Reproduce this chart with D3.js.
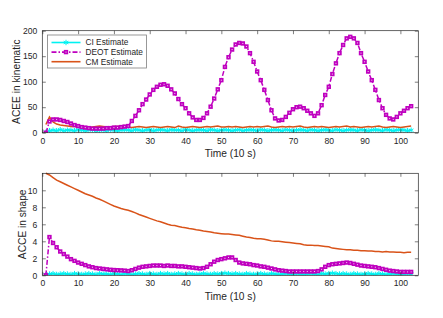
<!DOCTYPE html>
<html>
<head>
<meta charset="utf-8">
<script src="https://cdn.jsdelivr.net/npm/d3@7"></script>
<style>
  body { margin: 0; background: #fff; }
  svg { display: block; font-family: "Liberation Sans", Arial, sans-serif; }
</style>
</head>
<body>
<div id="chart"></div>
<script>
// ---------------------------------------------------------
// DATA
// ---------------------------------------------------------

// time steps 1..103
var timeSteps = d3.range(1, 104);

var xTicks = [0, 10, 20, 30, 40, 50, 60, 70, 80, 90, 100];
var topYTicks = [0, 50, 100, 150, 200];
var bottomYTicks = [0, 2, 4, 6, 8, 10];

var seriesNames = ["CI Estimate", "DEOT Estimate", "CM Estimate"];

// top panel: ACEE in kinematic
var ciKinematic = [
  1, 4, 5, 4, 6, 4, 5, 5, 4, 6,
  5, 4, 5, 6, 4, 5, 5, 4, 6, 5,
  4, 5, 6, 5, 4, 6, 5, 4, 5, 6,
  4, 5, 6, 5, 4, 6, 5, 5, 4, 6,
  5, 4, 5, 6, 5, 4, 6, 5, 4, 5,
  6, 5, 4, 5, 6, 4, 5, 6, 5, 4,
  6, 5, 4, 5, 6, 5, 4, 6, 5, 4,
  5, 6, 5, 4, 6, 5, 4, 5, 6, 5,
  4, 6, 5, 4, 5, 6, 5, 4, 6, 5,
  4, 5, 6, 5, 4, 6, 5, 4, 5, 6,
  5, 4, 5
];

var deotKinematic = [
  0, 22, 26, 26, 25, 23, 21, 18, 15, 13,
  11, 10, 9, 8, 8, 8, 8, 9, 9, 10,
  10, 11, 12, 13, 23, 33, 44, 56, 65, 75,
  84, 90, 94, 95, 92, 85, 77, 66, 56, 48,
  38, 30, 25, 25, 29, 38, 51, 67, 85, 103,
  129, 148, 163, 173, 176, 175, 169, 156, 139, 120,
  103, 84, 64, 44, 28, 24, 25, 31, 39, 46,
  50, 51, 48, 43, 38, 33, 38, 54, 74, 90,
  115, 136, 156, 172, 185, 188, 185, 176, 156, 139,
  120, 103, 84, 64, 48, 35, 28, 26, 31, 38,
  43, 48, 52
];

var cmKinematic = [
  16, 31, 21, 17, 15, 14, 13, 12, 12, 11,
  11, 10, 10, 11, 12, 13, 12, 11, 11, 12,
  12, 13, 12, 11, 10, 11, 12, 11, 10, 11,
  12, 11, 10, 11, 12, 11, 10, 13, 11, 10,
  11, 12, 11, 10, 11, 12, 11, 12, 13, 11,
  11, 12, 11, 12, 11, 10, 11, 12, 11, 12,
  11, 12, 13, 11, 10, 11, 12, 11, 12, 11,
  12, 13, 11, 10, 11, 12, 11, 12, 11, 10,
  11, 12, 11, 12, 13, 11, 12, 11, 10, 11,
  12, 11, 12, 13, 11, 10, 11, 12, 11, 10,
  11, 12, 13
];

// bottom panel: ACCE in shape
var ciShape = [
  0.05, 0.15, 0.2, 0.1, 0.15, 0.2, 0.15, 0.1, 0.2, 0.15,
  0.1, 0.15, 0.2, 0.15, 0.1, 0.2, 0.15, 0.15, 0.1, 0.2,
  0.15, 0.1, 0.2, 0.15, 0.1, 0.15, 0.2, 0.15, 0.1, 0.2,
  0.15, 0.1, 0.2, 0.15, 0.2, 0.1, 0.15, 0.2, 0.15, 0.1,
  0.2, 0.15, 0.1, 0.15, 0.2, 0.15, 0.1, 0.2, 0.15, 0.2,
  0.25, 0.2, 0.15, 0.2, 0.15, 0.1, 0.2, 0.15, 0.1, 0.15,
  0.2, 0.15, 0.1, 0.2, 0.15, 0.1, 0.15, 0.2, 0.15, 0.1,
  0.2, 0.15, 0.1, 0.15, 0.2, 0.15, 0.1, 0.2, 0.15, 0.2,
  0.25, 0.2, 0.15, 0.2, 0.15, 0.1, 0.2, 0.15, 0.1, 0.15,
  0.2, 0.15, 0.1, 0.2, 0.15, 0.1, 0.15, 0.2, 0.15, 0.1,
  0.15, 0.2, 0.15
];

var deotShape = [
  0, 4.5, 3.8, 3.3, 2.8, 2.5, 2.2, 1.9, 1.7, 1.5,
  1.35, 1.2, 1.05, 0.95, 0.85, 0.8, 0.75, 0.7, 0.65, 0.62,
  0.6, 0.58, 0.55, 0.5, 0.6, 0.75, 0.9, 1.0, 1.05, 1.1,
  1.15, 1.15, 1.15, 1.1, 1.15, 1.1, 1.1, 1.05, 1.05, 1.0,
  0.95, 0.9, 0.85, 0.8, 0.85, 1.0, 1.3, 1.6, 1.8, 1.9,
  2.0, 2.1, 2.1, 1.8, 1.5, 1.4, 1.35, 1.3, 1.2, 1.15,
  1.05, 1.0, 0.9, 0.8, 0.7, 0.6, 0.55, 0.5, 0.45, 0.45,
  0.45, 0.45, 0.45, 0.45, 0.45, 0.45, 0.5, 0.7, 1.0, 1.2,
  1.3, 1.35, 1.4, 1.45, 1.5, 1.45, 1.35, 1.25, 1.15, 1.1,
  1.05, 1.0, 0.95, 0.85, 0.75, 0.65, 0.55, 0.5, 0.45, 0.4,
  0.4, 0.4, 0.4
];

var cmShape = [
  12.0, 11.8, 11.5, 11.2, 11.0, 10.8, 10.6, 10.4, 10.2, 10.0,
  9.8, 9.6, 9.45, 9.3, 9.1, 8.95, 8.75, 8.55, 8.35, 8.15,
  8.0, 7.85, 7.75, 7.65, 7.5, 7.35, 7.15, 7.0, 6.85, 6.7,
  6.55, 6.4, 6.3, 6.15, 6.0, 5.9, 5.85, 5.75, 5.65, 5.6,
  5.5, 5.45, 5.35, 5.3, 5.2, 5.15, 5.1, 5.0, 4.95, 4.9,
  4.85, 4.85, 4.8, 4.75, 4.7, 4.6, 4.5, 4.45, 4.35, 4.3,
  4.3, 4.25, 4.15, 4.05, 4.0, 4.0, 3.95, 3.9, 3.85, 3.8,
  3.75, 3.7, 3.6, 3.55, 3.55, 3.5, 3.5, 3.45, 3.4, 3.35,
  3.2, 3.15, 3.1, 3.05, 3.0, 3.0, 2.95, 2.95, 2.9, 2.9,
  2.85, 2.85, 2.8, 2.8, 2.75, 2.8, 2.75, 2.75, 2.7, 2.7,
  2.65, 2.7, 2.7
];

// ---------------------------------------------------------
// SET UP PARAMETERS
// ---------------------------------------------------------

var svgWidth = 443;
var svgHeight = 318;

var colors = {
  ci: "#00f2f2",
  deot: "#bf00bf",
  cm: "#d95319",
  axis: "#262626"
};

var svg = d3.select("#chart")
  .append("svg")
  .attr("width", svgWidth)
  .attr("height", svgHeight);

// square marker: solid magenta with a tiny light centre
function addSquare(sel, x, y) {
  sel.append("rect")
    .attr("x", x - 2.2)
    .attr("y", y - 2.2)
    .attr("width", 4.4)
    .attr("height", 4.4)
    .attr("fill", colors.deot);
  sel.append("rect")
    .attr("x", x - 0.5)
    .attr("y", y - 0.5)
    .attr("width", 1)
    .attr("height", 1)
    .attr("fill", "#f4d8f4");
}

// ---------------------------------------------------------
// PANEL DRAWING FUNCTION
// ---------------------------------------------------------

function drawPanel(box, yDomain, yTicks, yLabel, yLabelX, ci, deot, cm, withLegend) {
  var width = box.right - box.left;
  var height = box.bottom - box.top;

  var g = svg.append("g")
    .attr("transform", `translate(${box.left}, ${box.top})`);

  var xScale = d3.scaleLinear().domain([0, 105]).range([0, width]);
  var yScale = d3.scaleLinear().domain(yDomain).range([height, 0]);

  // clip plotting area
  var clipId = "clip" + Math.round(box.top);
  g.append("clipPath").attr("id", clipId)
    .append("rect")
    .attr("x", -3).attr("y", -3)
    .attr("width", width + 6).attr("height", height + 3);

  var plot = g.append("g").attr("clip-path", `url(#${clipId})`);

  var line = d3.line()
    .x((d, i) => xScale(timeSteps[i]))
    .y(d => yScale(d));

  // CI estimate: cyan line with asterisk markers
  plot.append("path")
    .datum(ci)
    .attr("fill", "none")
    .attr("stroke", colors.ci)
    .attr("stroke-width", 1.5)
    .attr("d", line);

  plot.selectAll(".ci-mark")
    .data(ci)
    .enter()
    .append("path")
    .attr("class", "ci-mark")
    .attr("transform", (d, i) => `translate(${xScale(timeSteps[i])}, ${yScale(d)})`)
    .attr("d", d3.symbol().type(d3.symbolAsterisk).size(20))
    .attr("fill", "none")
    .attr("stroke", colors.ci)
    .attr("stroke-width", 1);

  // CM estimate (solid orange line)
  plot.append("path")
    .datum(cm)
    .attr("fill", "none")
    .attr("stroke", colors.cm)
    .attr("stroke-width", 1.5)
    .attr("d", line);

  // DEOT estimate: dash-dot magenta with square markers
  plot.append("path")
    .datum(deot)
    .attr("fill", "none")
    .attr("stroke", colors.deot)
    .attr("stroke-width", 1.5)
    .attr("stroke-dasharray", "5,2,1.5,2")
    .attr("d", line);

  var marks = plot.append("g");
  deot.forEach(function(d, i) {
    addSquare(marks, xScale(timeSteps[i]), yScale(d));
  });

  // axes: ticks inside, box with mirrored ticks
  var bottomAxis = d3.axisBottom(xScale).tickValues(xTicks).tickSizeInner(-3.5).tickSizeOuter(0).tickPadding(5);
  var topAxis = d3.axisTop(xScale).tickValues(xTicks).tickSizeInner(-3.5).tickSizeOuter(0).tickFormat("");
  var leftAxis = d3.axisLeft(yScale).tickValues(yTicks).tickSizeInner(-3.5).tickSizeOuter(0).tickPadding(5);
  var rightAxis = d3.axisRight(yScale).tickValues(yTicks).tickSizeInner(-3.5).tickSizeOuter(0).tickFormat("");

  var axes = [
    g.append("g").attr("transform", `translate(0, ${height})`).call(bottomAxis),
    g.append("g").call(topAxis),
    g.append("g").call(leftAxis),
    g.append("g").attr("transform", `translate(${width}, 0)`).call(rightAxis)
  ];

  axes.forEach(function(a) {
    a.select(".domain").remove();
    a.selectAll("line").attr("stroke", colors.axis).attr("stroke-width", 0.6);
    a.selectAll("text")
      .attr("fill", colors.axis)
      .attr("font-size", "8.6px")
      .attr("font-family", "Liberation Sans, Arial, sans-serif");
  });

  g.append("rect")
    .attr("width", width)
    .attr("height", height)
    .attr("fill", "none")
    .attr("stroke", colors.axis)
    .attr("stroke-width", 0.7);

  // axis labels
  g.append("text")
    .attr("x", width / 2)
    .attr("y", height + 24.5)
    .attr("text-anchor", "middle")
    .attr("font-size", "10.2px")
    .attr("fill", colors.axis)
    .text("Time (10 s)");

  svg.append("text")
    .attr("transform", `translate(${yLabelX}, ${box.top + height / 2}) rotate(-90)`)
    .attr("text-anchor", "middle")
    .attr("dy", "0.35em")
    .attr("font-size", "10.2px")
    .attr("fill", colors.axis)
    .text(yLabel);

  // legend
  if (withLegend) {
    var legend = svg.append("g").attr("transform", "translate(47.5, 35)");
    legend.append("rect")
      .attr("width", 99)
      .attr("height", 33)
      .attr("fill", "#fff")
      .attr("stroke", "#7f7f7f")
      .attr("stroke-width", 0.8);

    var rows = [
      { name: seriesNames[0], color: colors.ci, dash: null, marker: "star" },
      { name: seriesNames[1], color: colors.deot, dash: "5,2,1.5,2", marker: "square" },
      { name: seriesNames[2], color: colors.cm, dash: null, marker: null }
    ];

    rows.forEach(function(r, i) {
      var y = 7.5 + i * 9.6;
      legend.append("line")
        .attr("x1", 4).attr("x2", 33)
        .attr("y1", y).attr("y2", y)
        .attr("stroke", r.color)
        .attr("stroke-width", 1.6)
        .attr("stroke-dasharray", r.dash);
      if (r.marker === "star") {
        legend.append("path")
          .attr("transform", `translate(18.5, ${y})`)
          .attr("d", d3.symbol().type(d3.symbolAsterisk).size(20))
          .attr("fill", "none")
          .attr("stroke", r.color)
          .attr("stroke-width", 1);
      }
      if (r.marker === "square") {
        addSquare(legend, 18.5, y);
      }
      legend.append("text")
        .attr("x", 38)
        .attr("y", y)
        .attr("dy", "0.35em")
        .attr("font-size", "8.3px")
        .attr("fill", colors.axis)
        .text(r.name);
    });
  }
}

// ---------------------------------------------------------
// BUILD BOTH PANELS
// ---------------------------------------------------------

drawPanel({ left: 42.3, right: 418.3, top: 30.7, bottom: 132.7 },
  [0, 200], topYTicks, "ACEE in kinematic", 16,
  ciKinematic, deotKinematic, cmKinematic, true);

drawPanel({ left: 42.3, right: 418.3, top: 173.3, bottom: 275.3 },
  [0, 12], bottomYTicks, "ACCE in shape", 22,
  ciShape, deotShape, cmShape, false);
</script>
</body>
</html>
